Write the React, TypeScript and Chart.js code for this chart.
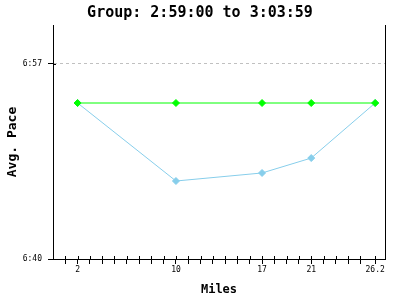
import React, { useEffect, useRef } from "react";
import { Chart, registerables } from "chart.js";

Chart.register(...registerables);

const miles = [2, 10, 17, 21, 26.2];
const groupPace = [413.6, 413.6, 413.6, 413.6, 413.6];
const runnerPace = [413.6, 406.8, 407.5, 408.8, 413.6];
const xTickValues = [1, 2, 3, 4, 5, 6, 7, 8, 9, 10, 11, 12, 13, 14, 15, 16, 17, 18, 19, 20, 21, 22, 23, 24, 25, 26.2];
const xLabelValues = [2, 10, 17, 21, 26.2];
const yTickValues = [400, 417];

const MONO = "'DejaVu Sans Mono', 'Liberation Mono', monospace";

function fmtPace(v: number) {
  const m = Math.floor(v / 60);
  const s = Math.round(v - m * 60);
  return m + ":" + String(s).padStart(2, "0");
}

const framePlugin = {
  id: "frame",
  afterDraw(chart: any) {
    const { ctx, chartArea } = chart;
    const xs = chart.scales.x;
    const ys = chart.scales.y;
    ctx.save();
    ctx.strokeStyle = "#000";
    ctx.lineWidth = 1;
    ctx.beginPath();
    const rx = Math.round(chartArea.right) + 0.5;
    ctx.moveTo(rx, chartArea.top);
    ctx.lineTo(rx, chartArea.bottom);
    xs.ticks.forEach((t: any) => {
      const px = Math.round(xs.getPixelForValue(t.value)) + 0.5;
      ctx.moveTo(px, chartArea.bottom);
      ctx.lineTo(px, chartArea.bottom - 3);
    });
    ys.ticks.forEach((t: any) => {
      const py = Math.round(ys.getPixelForValue(t.value)) + 0.5;
      ctx.moveTo(chartArea.left, py);
      ctx.lineTo(chartArea.left + 3, py);
    });
    ctx.stroke();
    ctx.restore();
  },
};

export default function App() {
  const ref = useRef<HTMLCanvasElement | null>(null);
  useEffect(() => {
    document.body.style.margin = "0";
    const chart = new Chart(ref.current as HTMLCanvasElement, {
      type: "line",
      data: {
        datasets: [
          {
            label: "Group",
            data: miles.map((m, i) => ({ x: m, y: groupPace[i] })),
            borderColor: "#00ff00",
            backgroundColor: "#00ff00",
            borderWidth: 1,
            pointStyle: "rectRot",
            pointRadius: 3.5,
            pointBorderWidth: 1,
            tension: 0,
          },
          {
            label: "Runner",
            data: miles.map((m, i) => ({ x: m, y: runnerPace[i] })),
            borderColor: "#87ceeb",
            backgroundColor: "#87ceeb",
            borderWidth: 1,
            pointStyle: "rectRot",
            pointRadius: 3.5,
            pointBorderWidth: 1,
            tension: 0,
          },
        ],
      },
      options: {
        animation: false,
        responsive: false,
        layout: { padding: 0 },
        plugins: {
          legend: { display: false },
          tooltip: { enabled: false },
          title: {
            display: true,
            text: "Group: 2:59:00 to 3:03:59",
            color: "#000",
            font: { family: MONO, size: 15, weight: "bold", lineHeight: 1.2 },
            padding: { top: 4, bottom: 3 },
          },
        },
        scales: {
          x: {
            type: "linear",
            min: 0,
            max: 27,
            afterBuildTicks: (scale: any) => {
              scale.ticks = xTickValues.map((v) => ({ value: v }));
            },
            afterFit: (scale: any) => {
              scale.height = 41;
            },
            ticks: {
              autoSkip: false,
              maxRotation: 0,
              padding: 1,
              color: "#000",
              font: { family: MONO, size: 8 },
              callback: (v: any) => (xLabelValues.includes(v) ? String(v) : ""),
            },
            grid: {
              drawOnChartArea: false,
              drawTicks: true,
              tickLength: 5,
              tickColor: "#000",
              tickWidth: 1,
            },
            border: { display: true, color: "#000", width: 1 },
            title: {
              display: true,
              text: "Miles",
              color: "#000",
              font: { family: MONO, size: 12, weight: "bold", lineHeight: 1.2 },
              padding: { top: 0, bottom: 3 },
            },
          },
          y: {
            type: "linear",
            min: 400,
            max: 420.4,
            afterBuildTicks: (scale: any) => {
              scale.ticks = yTickValues.map((v) => ({ value: v }));
            },
            afterFit: (scale: any) => {
              scale.width = 53;
            },
            ticks: {
              padding: 6,
              color: "#000",
              font: { family: MONO, size: 8 },
              callback: (v: any) => fmtPace(Number(v)),
            },
            grid: {
              drawOnChartArea: true,
              drawTicks: true,
              tickLength: 5,
              tickColor: "#000",
              tickWidth: 1,
              lineWidth: 1,
              color: (c: any) => (c.tick && c.tick.value === 417 ? "#c0c0c0" : "rgba(0,0,0,0)"),
            },
            border: { display: true, color: "#000", width: 1, dash: [3, 3] },
            title: {
              display: true,
              text: "Avg. Pace",
              color: "#000",
              font: { family: MONO, size: 13, weight: "bold", lineHeight: 1.2 },
              padding: { top: 5, bottom: 0 },
            },
          },
          spacer: {
            type: "linear",
            position: "right",
            min: 0,
            max: 1,
            display: true,
            ticks: { display: false },
            grid: { display: false, drawTicks: false },
            border: { display: false },
            title: { display: false },
            afterFit: (scale: any) => {
              scale.width = 15;
            },
          },
        },
      },
      plugins: [framePlugin],
    } as any);
    return () => chart.destroy();
  }, []);
  return (
    <div style={{ position: "absolute", left: 0, top: 0, width: 400, height: 300 }}>
      <canvas ref={ref} width={400} height={300} style={{ width: 400, height: 300 }} />
    </div>
  );
}
